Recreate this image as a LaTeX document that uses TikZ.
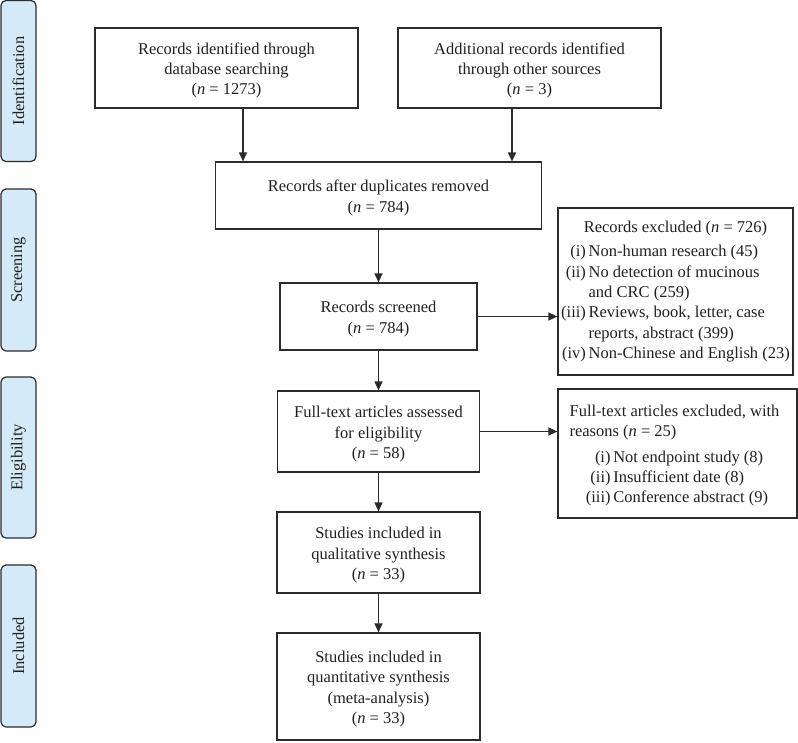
\documentclass[tikz,border=0pt]{standalone}
\usepackage{fontspec}
\setmainfont{Liberation Serif}
\usetikzlibrary{arrows.meta}
\definecolor{sidefill}{HTML}{D4EAF8}
\definecolor{linec}{HTML}{2B2B2B}
\definecolor{txt}{HTML}{231F20}
\newcommand{\nn}{\textit{n}}
\newcommand{\lowtext}[2][c]{\raisebox{-2.5pt}[\height][\depth]{\begin{tabular}{@{}#1@{}}#2\end{tabular}}}
\begin{document}
\begin{tikzpicture}[x=1pt,y=-1pt,
  font=\fontsize{16.5}{20.3}\selectfont, text=txt,
  box/.style={draw=linec, line width=1.2pt, align=center, inner sep=0pt},
  side/.style={draw=linec, fill=sidefill, rounded corners=5pt, line width=1.2pt,
    rotate=90, minimum height=35pt, inner sep=0pt},
  arr/.style={draw=linec, line width=1.2pt, -{Triangle[length=9pt,width=8pt]}}]
\useasboundingbox (0,0) rectangle (798,742);

% side labels
\node[side, minimum width=161pt] (ident) at (18.5,81) {Identification};
\node[side, minimum width=162pt] (screen) at (18.5,270) {Screening};
\node[side, minimum width=161pt] (elig) at (18.5,457.5) {Eligibility};
\node[side, minimum width=162pt] (incl) at (18.5,646) {Included};

% main boxes
\node[box, minimum width=263pt, minimum height=80pt] (b1) at (226.5,68)
  {\lowtext{Records identified through\\database searching\\(\nn{} = 1273)}};
\node[box, minimum width=263pt, minimum height=80pt] (b2) at (529.5,68)
  {\lowtext{Additional records identified\\through other sources\\(\nn{} = 3)}};
\node[box, minimum width=326pt, minimum height=67pt] (b3) at (378.5,195.5)
  {\lowtext{Records after duplicates removed\\(\nn{} = 784)}};
\node[box, minimum width=197pt, minimum height=67pt] (b4) at (378.5,316.5)
  {\lowtext{Records screened\\(\nn{} = 784)}};
\node[box, minimum width=202pt, minimum height=81pt] (b5) at (378.5,431.5)
  {\lowtext{Full-text articles assessed\\for eligibility\\(\nn{} = 58)}};
\node[box, minimum width=203pt, minimum height=81pt] (b6) at (378.5,552.5)
  {\lowtext{Studies included in\\qualitative synthesis\\(\nn{} = 33)}};
\node[box, minimum width=203pt, minimum height=107pt] (b7) at (378.5,686.5)
  {\lowtext{Studies included in\\quantitative synthesis\\(meta-analysis)\\(\nn{} = 33)}};

% exclusion boxes
\node[box, minimum width=235pt, minimum height=167pt] (e1) at (675.5,291.5)
  {\begin{tabular}{@{}r@{\,}l@{}}
   \multicolumn{2}{c}{Records excluded (\nn{} = 726)}\\[4pt]
   (i) & Non-human research (45)\\
   (ii) & No detection of mucinous\\
        & and CRC (259)\\
   (iii) & Reviews, book, letter, case\\
         & reports, abstract (399)\\
   (iv) & Non-Chinese and English (23)
   \end{tabular}};
\node[box, minimum width=239pt, minimum height=129pt] (e2) at (677.5,453.5)
  {\raisebox{-2pt}[\height][\depth]{\begin{tabular}{@{}r@{\,}l@{}}
   \multicolumn{2}{@{}l}{Full-text articles excluded, with}\\
   \multicolumn{2}{@{}l}{reasons (\nn{} = 25)}\\[5pt]
   \makebox[41pt][r]{(i)} & Not endpoint study (8)\\
   (ii) & Insufficient date (8)\\
   (iii) & Conference abstract (9)
   \end{tabular}}};

% connectors
\draw[arr] ([xshift=16.5pt]b1.south) -- ([xshift=16.5pt]b1.south |- b3.north);
\draw[arr] ([xshift=-17.5pt]b2.south) -- ([xshift=-17.5pt]b2.south |- b3.north);
\draw[arr] (b3.south) -- (b3.south |- b4.north);
\draw[arr] (b4.south) -- (b4.south |- b5.north);
\draw[arr] (b5.south) -- (b5.south |- b6.north);
\draw[arr] (b6.south) -- (b6.south |- b7.north);
\draw[arr] (b4.east) -- (b4.east -| e1.west);
\draw[arr] (b5.east) -- (b5.east -| e2.west);
\end{tikzpicture}
\end{document}
